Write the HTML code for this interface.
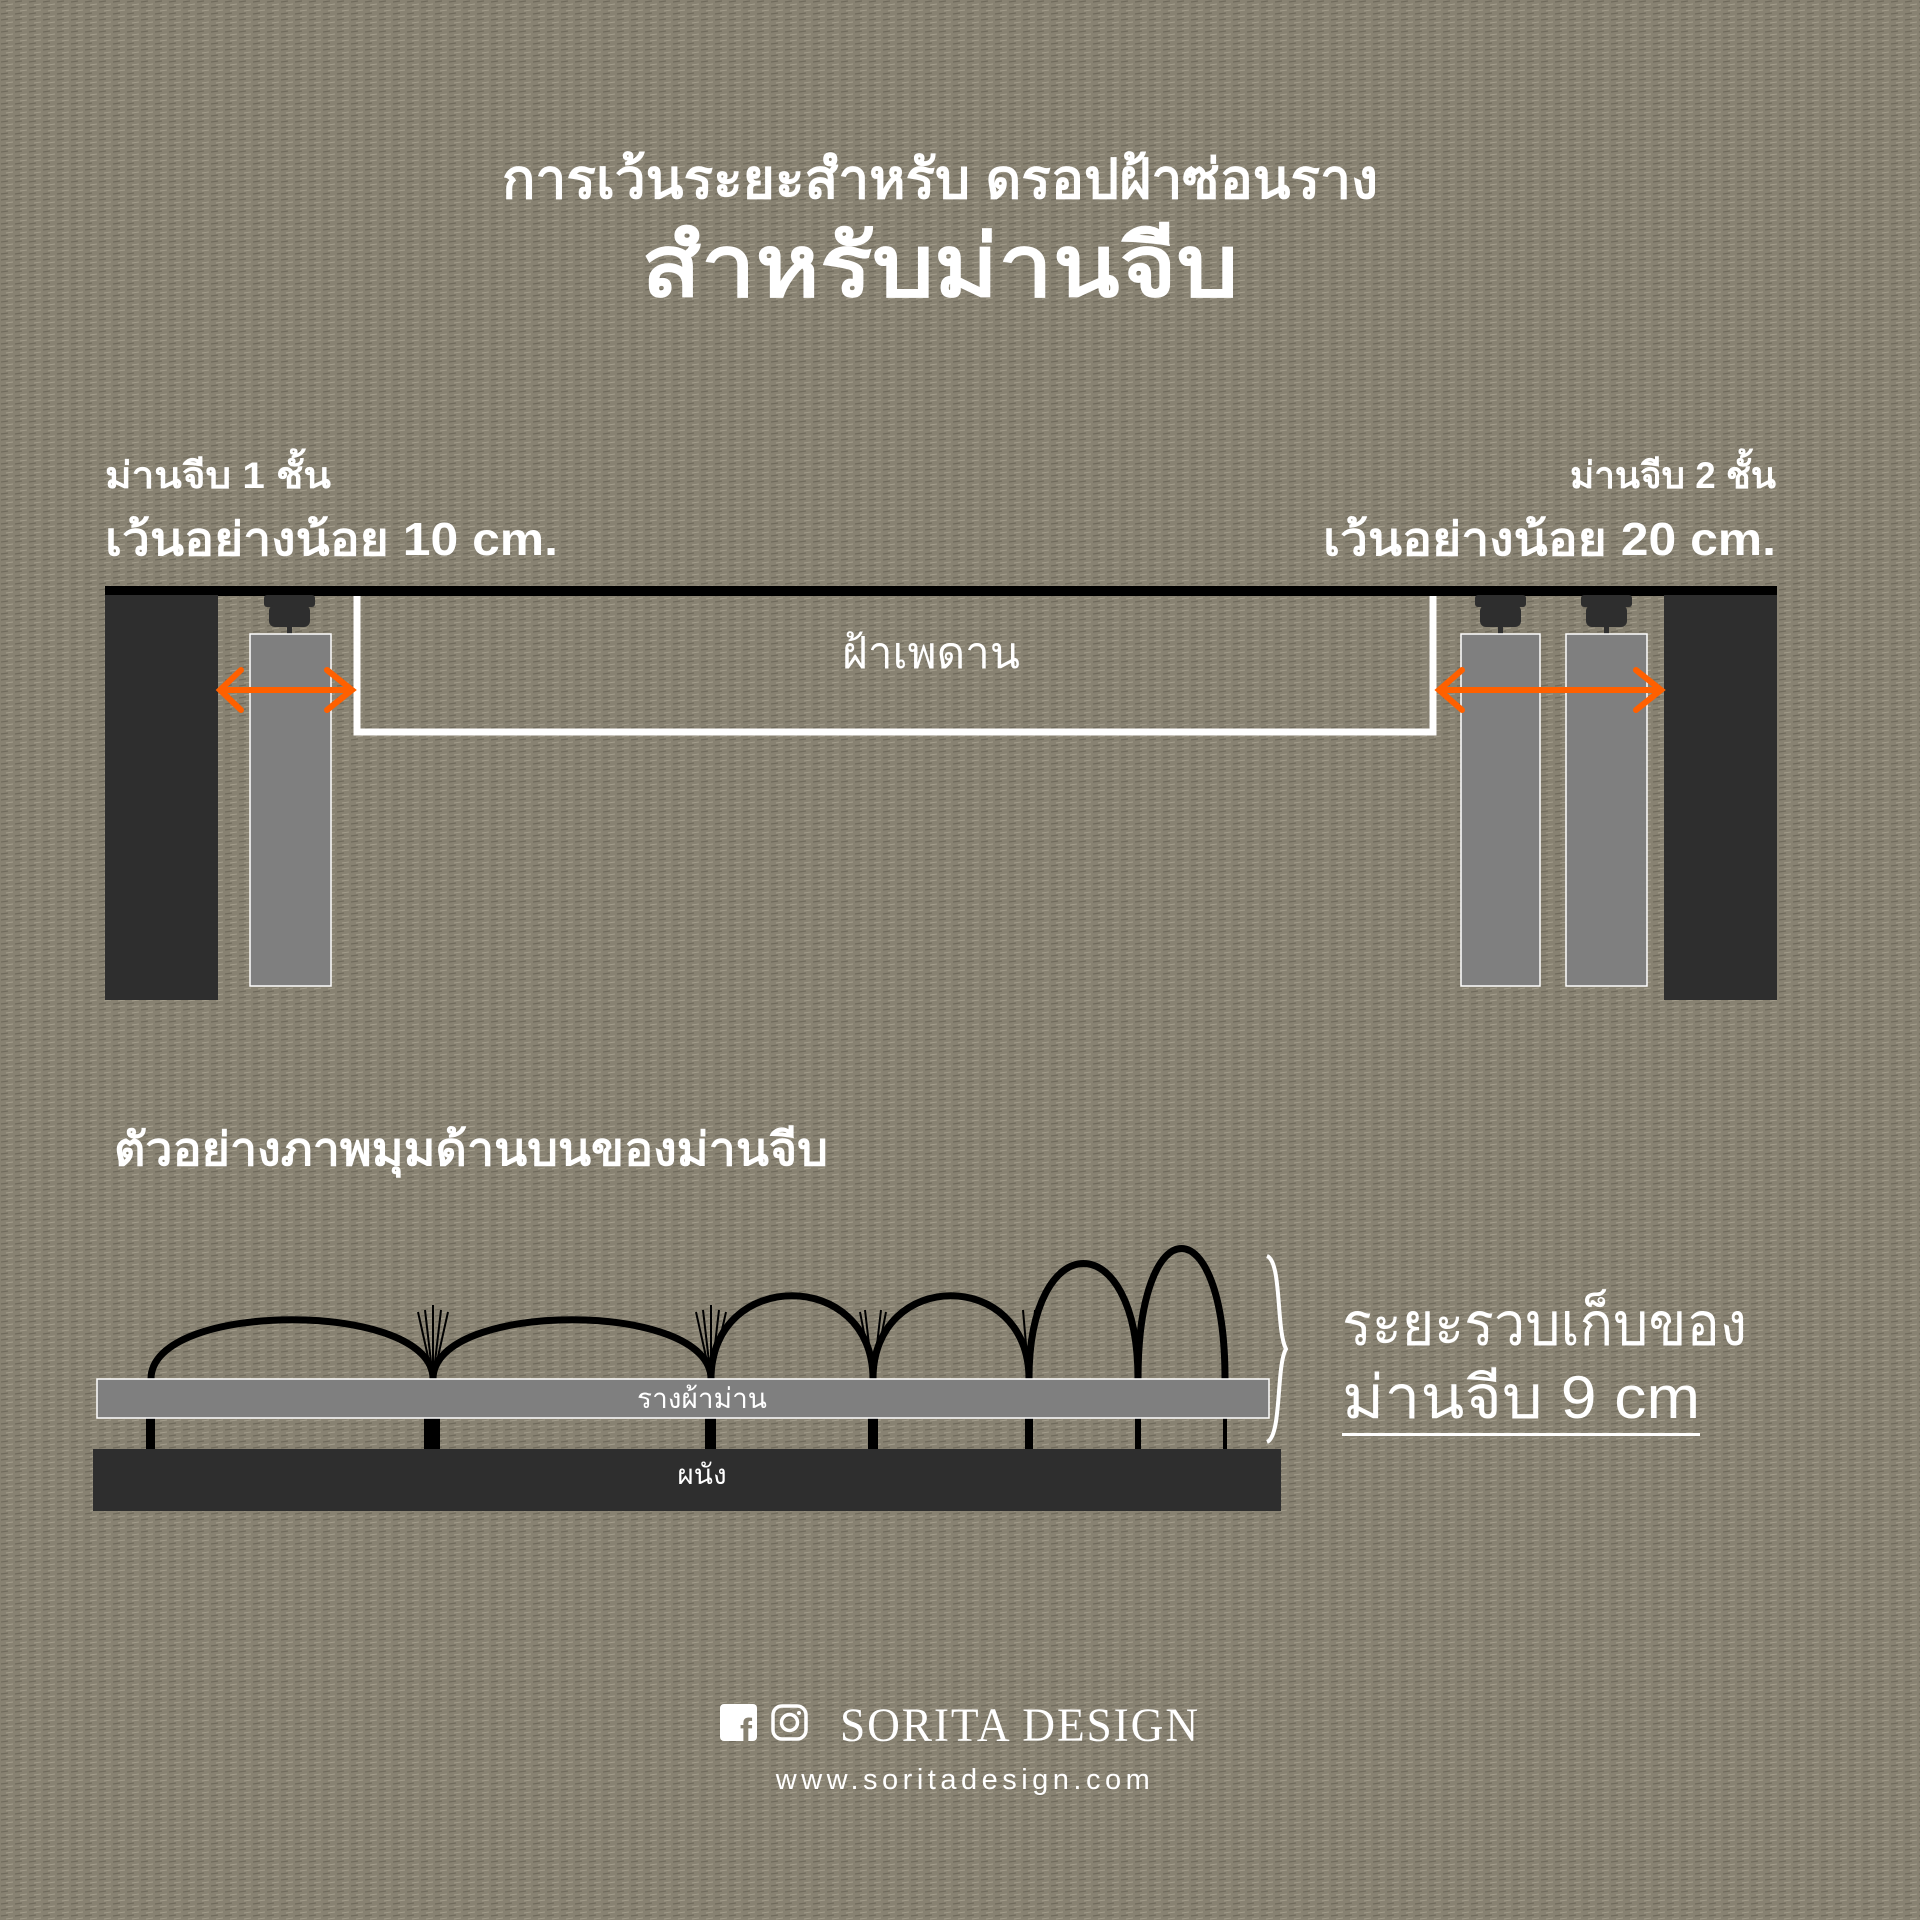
<!DOCTYPE html>
<html><head><meta charset="utf-8"><style>
html,body{margin:0;padding:0;background:#878171;}
svg{display:block}
text{font-family:"Liberation Sans","Noto Sans CJK SC","WenQuanYi Zen Hei",sans-serif;fill:#fff}
</style></head><body>
<svg width="1920" height="1920" viewBox="0 0 1920 1920" xmlns="http://www.w3.org/2000/svg">
<defs>
<pattern id="tx" width="14" height="6" patternUnits="userSpaceOnUse">
<rect width="14" height="6" fill="#888272"/>
<line x1="1" y1="2" x2="8" y2="1" stroke="#6f6a5c" stroke-width="1.2"/>
<line x1="6" y1="5" x2="13" y2="4" stroke="#a39d8c" stroke-width="1"/>
</pattern>
</defs>
<rect width="1920" height="1920" fill="url(#tx)"/>

<text x="940" y="198" font-size="55" font-weight="bold" text-anchor="middle" textLength="876" lengthAdjust="spacingAndGlyphs">การเว้นระยะสำหรับ ดรอปฝ้าซ่อนราง</text>
<text x="940" y="296" font-size="86" font-weight="bold" text-anchor="middle" textLength="597" lengthAdjust="spacingAndGlyphs">สำหรับม่านจีบ</text>

<text x="105" y="488" font-size="37" font-weight="bold" textLength="226" lengthAdjust="spacingAndGlyphs">ม่านจีบ 1 ชั้น</text>
<text x="105" y="555" font-size="46" font-weight="bold" textLength="453" lengthAdjust="spacingAndGlyphs">เว้นอย่างน้อย 10 cm.</text>
<text x="1570" y="488" font-size="37" font-weight="bold" textLength="206" lengthAdjust="spacingAndGlyphs">ม่านจีบ 2 ชั้น</text>
<text x="1323" y="555" font-size="46" font-weight="bold" textLength="453" lengthAdjust="spacingAndGlyphs">เว้นอย่างน้อย 20 cm.</text>

<rect x="105" y="586" width="1672" height="10" fill="#000"/>
<rect x="105" y="595" width="113" height="405" fill="#2e2e2e"/>
<rect x="1664" y="595" width="113" height="405" fill="#2e2e2e"/>

<g fill="#2e2e2e">
<rect x="264" y="595" width="51" height="12" rx="3"/><rect x="269" y="605" width="41" height="22" rx="6"/><rect x="287" y="625" width="5" height="9"/>
<rect x="1475" y="595" width="51" height="12" rx="3"/><rect x="1480" y="605" width="41" height="22" rx="6"/><rect x="1498" y="625" width="5" height="9"/>
<rect x="1581" y="595" width="51" height="12" rx="3"/><rect x="1586" y="605" width="41" height="22" rx="6"/><rect x="1604" y="625" width="5" height="9"/>
</g>
<g fill="#7f7f7f" stroke="#fff" stroke-width="1.5">
<rect x="250" y="634" width="81" height="352"/>
<rect x="1461" y="634" width="79" height="352"/>
<rect x="1566" y="634" width="81" height="352"/>
</g>

<path d="M357 596 V732 H1433 V596" fill="none" stroke="#fff" stroke-width="7"/>
<text x="931" y="668" font-size="44" text-anchor="middle">ฝ้าเพดาน</text>

<g stroke="#ff6000" stroke-width="6" fill="none" stroke-linecap="round">
<path d="M220 690 H352 M241 670 L220 690 L241 710 M327 670 L352 690 L327 710"/>
<path d="M1439 690 H1661 M1462 670 L1439 690 L1462 710 M1636 670 L1661 690 L1636 710"/>
</g>

<text x="114" y="1165" font-size="46" font-weight="bold" textLength="714" lengthAdjust="spacingAndGlyphs">ตัวอย่างภาพมุมด้านบนของม่านจีบ</text>

<g stroke="#000" fill="none" stroke-width="7">
<path d="M151 1379 C151 1300 433 1300 433 1379"/>
<path d="M433 1379 C433 1300 711 1300 711 1379"/>
<path d="M711 1379 C711 1268 873 1268 873 1379"/>
<path d="M873 1379 C873 1268 1029 1268 1029 1379"/>
<path d="M1029 1379 C1029 1225 1138 1225 1138 1379"/>
<path d="M1138 1379 C1138 1205 1225 1205 1225 1379"/>
</g>
<g stroke="#000" stroke-width="2" fill="none">
<path d="M425 1310 L433 1379 L441 1310 M418 1312 L433 1379 L448 1312 M433 1305 V1379"/>
<path d="M703 1310 L711 1379 L719 1310 M696 1312 L711 1379 L726 1312 M711 1305 V1379"/>
<path d="M865 1310 L873 1379 L881 1310 M860 1312 L873 1379 L886 1312"/>
<path d="M1023 1310 L1029 1379 L1035 1310"/>
</g>
<g fill="#000">
<rect x="146" y="1418" width="9" height="32"/>
<rect x="424" y="1418" width="16" height="32"/>
<rect x="705" y="1418" width="11" height="32"/>
<rect x="868" y="1418" width="10" height="32"/>
<rect x="1025" y="1418" width="8" height="32"/>
<rect x="1135" y="1418" width="6" height="32"/>
<rect x="1223" y="1418" width="4" height="32"/>
</g>
<rect x="97" y="1379" width="1172" height="39" fill="#7f7f7f" stroke="#fff" stroke-width="1.5"/>
<text x="702" y="1408" font-size="28" text-anchor="middle">รางผ้าม่าน</text>
<rect x="93" y="1449" width="1188" height="62" fill="#2e2e2e"/>
<text x="702" y="1484" font-size="28" text-anchor="middle">ผนัง</text>

<path d="M1267 1256 C1282 1262 1276 1330 1286 1349 C1276 1366 1282 1436 1267 1442" fill="none" stroke="#fff" stroke-width="4"/>
<text x="1342" y="1345" font-size="60" textLength="405" lengthAdjust="spacingAndGlyphs">ระยะรวบเก็บของ</text>
<text x="1342" y="1418" font-size="60" textLength="358" lengthAdjust="spacingAndGlyphs">ม่านจีบ 9 cm</text>
<rect x="1342" y="1433" width="358" height="3" fill="#fff"/>

<rect x="720" y="1704" width="37" height="37" rx="4" fill="#fff"/>
<text x="740" y="1744" font-size="36" font-weight="bold" style="fill:#878171">f</text>
<rect x="773" y="1706" width="33" height="33" rx="9" fill="none" stroke="#fff" stroke-width="3.5"/>
<circle cx="789.5" cy="1722.5" r="8" fill="none" stroke="#fff" stroke-width="3.5"/>
<circle cx="799" cy="1713" r="2" fill="#fff"/>
<text x="840" y="1741" font-size="48" letter-spacing="2" textLength="360" lengthAdjust="spacingAndGlyphs" style="font-family:'Liberation Serif',serif">SORITA DESIGN</text>
<text x="965" y="1789" font-size="29" text-anchor="middle" letter-spacing="4.5">www.soritadesign.com</text>
</svg>
</body></html>
